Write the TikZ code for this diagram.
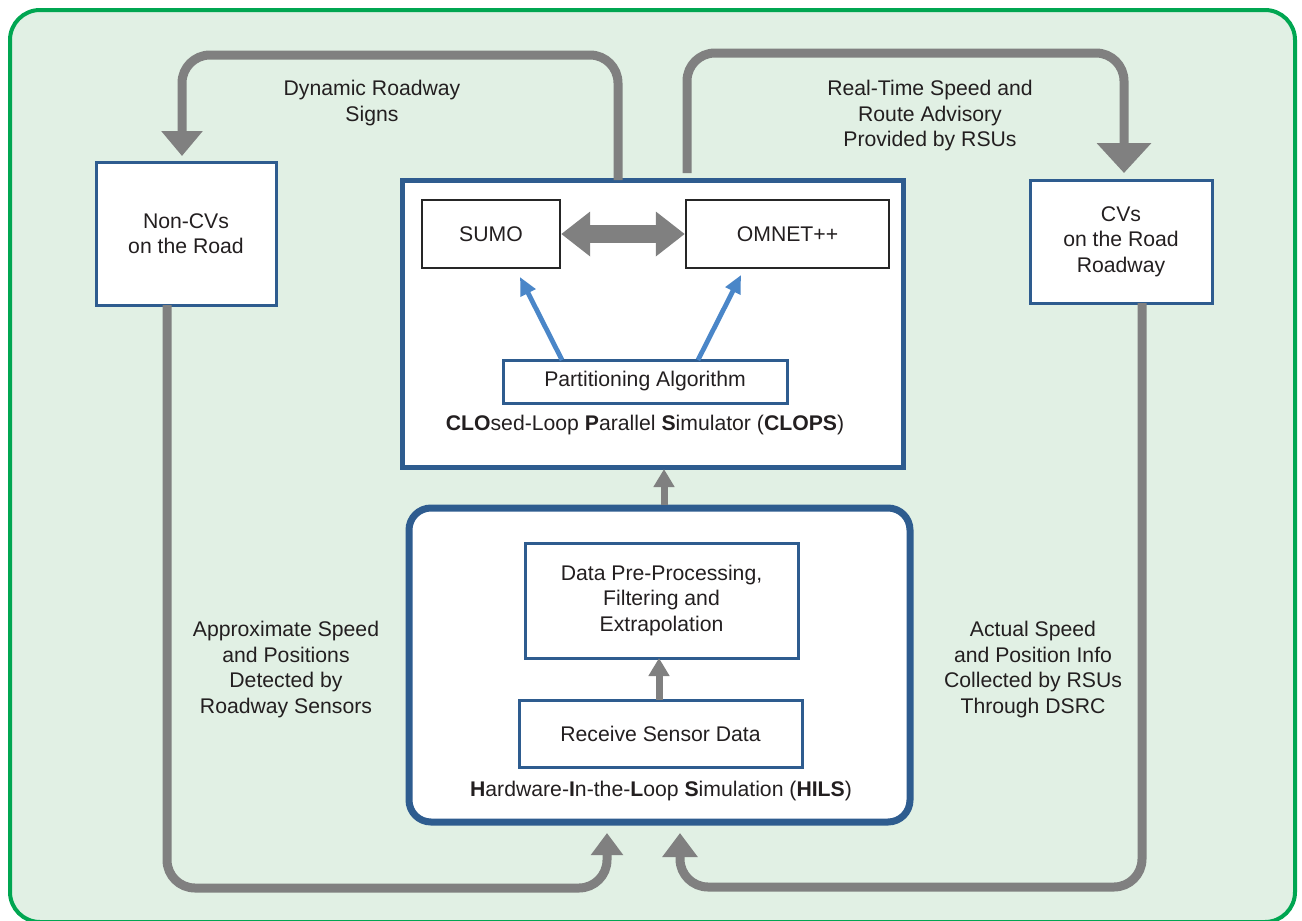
\documentclass[tikz,border=0pt]{standalone}
\usepackage{fontspec}
\setmainfont{Liberation Sans}
\usetikzlibrary{arrows.meta,calc}
\definecolor{framegreen}{HTML}{00A651}
\definecolor{bggreen}{HTML}{E1F0E4}
\definecolor{boxblue}{HTML}{2E5C8F}
\definecolor{arrblue}{HTML}{4A86C8}
\definecolor{arrgray}{HTML}{808080}
\definecolor{txt}{HTML}{231F20}
\begin{document}
\begin{tikzpicture}[x=0.5pt,y=-0.5pt,
  every node/.style={font=\fontsize{10.6}{12.75}\selectfont, text=txt, align=center, inner sep=0pt, outer sep=0pt},
  bluebox/.style={draw=boxblue, line width=1.5pt, fill=white},
  blackbox/.style={draw=black!85, line width=1.25pt, fill=white},
  garrow/.style={draw=arrgray, line width=4.5pt, rounded corners=14pt},
  barrow/.style={draw=arrblue, line width=2.4pt, -{Triangle[width=8pt,length=9pt]}},
  smallg/.style={draw=arrgray, line width=3.5pt, -{Triangle[width=10pt,length=9pt]}}
]
\useasboundingbox (0,0) rectangle (1302,921);
% frame
\draw[framegreen, line width=2pt, fill=bggreen, rounded corners=15pt] (10,10) rectangle (1295,922);

% boxes
\node[bluebox, minimum width=90pt, minimum height=71.5pt] (noncv) at (186,233.5) {Non-CVs\\on the Road};
\node[bluebox, minimum width=91pt, minimum height=61.5pt] (cv) at (1121,241.5) {CVs\\on the Road\\Roadway};
\node[draw=boxblue, line width=2.5pt, fill=white, minimum width=250.5pt, minimum height=143.5pt] (clops) at (652.5,323.5) {};
\node[blackbox, minimum width=69pt, minimum height=34pt] (sumo) at (491,234) {SUMO};
\node[blackbox, minimum width=101.5pt, minimum height=34pt] (omnet) at (787.5,234) {OMNET++};
\node[bluebox, minimum width=142pt, minimum height=21.5pt] (part) at (645,381.5) {Partitioning Algorithm};
\node (clopslabel) at (645,425) {\textbf{CLO}sed-Loop \textbf{P}arallel \textbf{S}imulator (\textbf{CLOPS})};

\node[draw=boxblue, line width=3.5pt, fill=white, rounded corners=11pt, minimum width=250.5pt, minimum height=157pt] (hils) at (659.5,665) {};
\node[bluebox, minimum width=136.5pt, minimum height=57.5pt] (data) at (661.5,600.5) {Data Pre-Processing,\\Filtering and\\Extrapolation};
\node[bluebox, minimum width=141.5pt, minimum height=33.5pt] (receive) at (660.5,733.5) {Receive Sensor Data};
\node (hilslabel) at (661,791) {\textbf{H}ardware-\textbf{I}n-the-\textbf{L}oop \textbf{S}imulation (\textbf{HILS})};

% labels
\node (dynlabel) at (372,103) {Dynamic Roadway\\Signs};
\node (rtlabel) at (930,116) {Real-Time Speed and\\Route Advisory\\Provided by RSUs};
\node (approxlabel) at (286,669.5) {Approximate Speed\\and Positions\\Detected by\\Roadway Sensors};
\node (actuallabel) at (1033,669.5) {Actual Speed\\and Position Info\\Collected by RSUs\\Through DSRC};

% bend coordinates
\coordinate (tl1) at (618,55);
\coordinate (tl2) at (182,55);
\coordinate (tr1) at (687,53);
\coordinate (tr2) at (1124,53);
\coordinate (bl1) at (167,888);
\coordinate (bl2) at (607,888);
\coordinate (br1) at (1142,887);
\coordinate (br2) at (680,887);
\coordinate (up1) at (664,0);
\coordinate (up2) at (659,0);
\coordinate (bs1) at (562,0);
\coordinate (bs2) at (698,0);
\coordinate (bt1) at (520,277);
\coordinate (bt2) at (741,275);

% top arrows
\draw[garrow, -{Triangle[width=20pt,length=12.5pt]}, shorten >=3pt]
  (clops.north -| tl1) -- (tl1) -- (tl2) -- (noncv.north -| tl2);
\draw[garrow, -{Triangle[width=26.5pt,length=15pt]}, shorten >=3.5pt, shorten <=3.5pt]
  (clops.north -| tr1) -- (tr1) -- (tr2) -- (cv.north -| tr2);

% bottom arrows
\draw[garrow, -{Triangle[width=15.5pt,length=11pt]}, shorten >=5.5pt]
  (noncv.south -| bl1) -- (bl1) -- (bl2) -- (hils.south -| bl2);
\draw[garrow, -{Triangle[width=17pt,length=12pt]}, shorten >=5.5pt]
  (cv.south -| br1) -- (br1) -- (br2) -- (hils.south -| br2);

% internal arrows
\draw[smallg, shorten <=1.75pt, shorten >=1pt] (hils.north -| up1) -- (clops.south -| up1);
\draw[smallg] (receive.north -| up2) -- (data.south -| up2);
\draw[draw=arrgray, line width=9pt, {Triangle[width=21.5pt,length=14.5pt]}-{Triangle[width=21.5pt,length=14.5pt]}, shorten <=0.6pt, shorten >=0.6pt] (sumo.east) -- (omnet.west);
\draw[barrow] (part.north -| bs1) -- (bt1);
\draw[barrow] (part.north -| bs2) -- (bt2);
\end{tikzpicture}
\end{document}
